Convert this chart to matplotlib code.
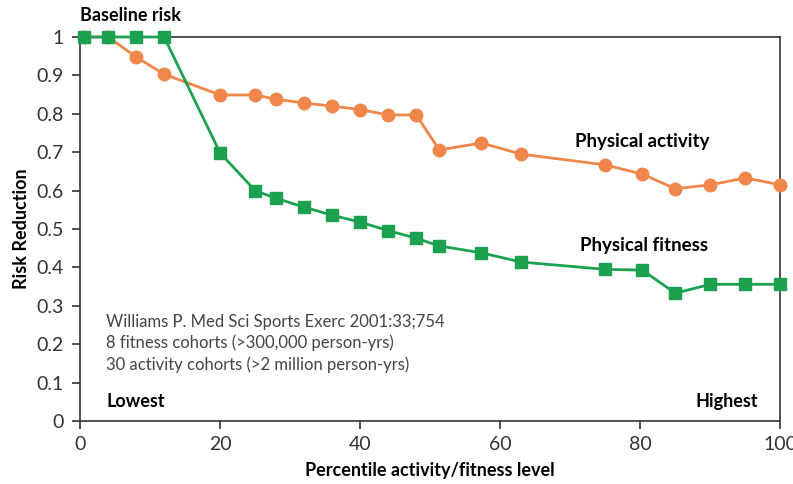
import matplotlib
matplotlib.use('Agg')
import matplotlib.pyplot as plt

# percentile positions and risk values
activity_x = [0.5, 4, 8, 12, 20, 25, 28, 32, 36, 40, 44, 48, 51.3, 57.3, 63, 75, 80.3, 85, 90, 95, 100]
activity_y = [1.0, 1.0, 0.948, 0.903, 0.849, 0.849, 0.838, 0.828, 0.82, 0.811, 0.797, 0.797,
              0.706, 0.724, 0.695, 0.667, 0.643, 0.605, 0.615, 0.633, 0.615]

fitness_x = [0.5, 4, 8, 12, 20, 25, 28, 32, 36, 40, 44, 48, 51.3, 57.3, 63, 75, 80.3, 85, 90, 95, 100]
fitness_y = [1.0, 1.0, 1.0, 1.0, 0.698, 0.600, 0.580, 0.557, 0.536, 0.518, 0.496, 0.476,
             0.456, 0.438, 0.414, 0.395, 0.393, 0.333, 0.356, 0.356, 0.356]

xticks = [0, 20, 40, 60, 80, 100]
yticks = [0, 0.1, 0.2, 0.3, 0.4, 0.5, 0.6, 0.7, 0.8, 0.9, 1]
ytick_labels = ['0', '0.1', '0.2', '0.3', '0.4', '0.5', '0.6', '0.7', '0.8', '0.9', '1']

orange = '#F0864A'
green = '#1BA150'

plt.rcParams['font.family'] = ['Lato', 'DejaVu Sans']

fig = plt.figure(figsize=(7.93, 4.84), dpi=100)
ax = fig.add_axes([0.101, 0.130, 0.883, 0.7936])

ax.plot(activity_x, activity_y, color=orange, lw=2, marker='o', ms=9, clip_on=False, zorder=3)
ax.plot(fitness_x, fitness_y, color=green, lw=2, marker='s', ms=8, clip_on=False, zorder=4)

ax.set_xlim(0, 100)
ax.set_ylim(0, 1)
ax.set_xticks(xticks)
ax.set_yticks(yticks)
ax.set_yticklabels(ytick_labels)
ax.tick_params(direction='out', length=6, width=1.2, labelsize=14, colors='#333333')
ax.tick_params(axis='y', pad=6)
ax.tick_params(axis='x', pad=5)
for s in ax.spines.values():
    s.set_color('#333333')
    s.set_linewidth(1.2)

ax.set_xlabel('Percentile activity/fitness level', fontsize=13, fontweight='bold', labelpad=6)
ax.set_ylabel('Risk Reduction', fontsize=13, fontweight='bold')
ax.yaxis.set_label_coords(-0.071, 0.5)

ax.text(0, 1.035, 'Baseline risk', fontsize=13, fontweight='bold', va='bottom', ha='left')
ax.text(70.7, 0.727, 'Physical activity', fontsize=13.5, fontweight='bold', va='center')
ax.text(71.4, 0.458, 'Physical fitness', fontsize=13.5, fontweight='bold', va='center')
ax.text(3.7, 0.052, 'Lowest', fontsize=13, fontweight='bold', va='center')
ax.text(96.8, 0.052, 'Highest', fontsize=13, fontweight='bold', va='center', ha='right')

notes = ['Williams P. Med Sci Sports Exerc 2001:33;754',
         '8 fitness cohorts (>300,000 person-yrs)',
         '30 activity cohorts (>2 million person-yrs)']
for i, line in enumerate(notes):
    ax.text(3.7, 0.258 - i * 0.055, line, fontsize=12, color='#444444', va='center')

fig.savefig('out.png', dpi=100)
